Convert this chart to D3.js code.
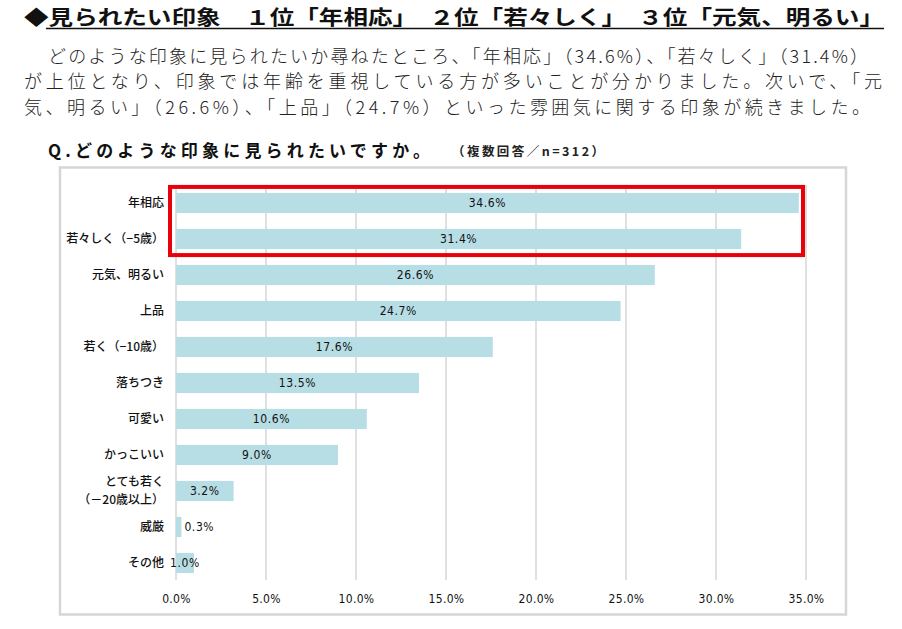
<!DOCTYPE html>
<html><head><meta charset="utf-8">
<script src="https://cdn.jsdelivr.net/npm/d3@7"></script>
<style>
html,body{margin:0;padding:0;background:#fff;}
svg{display:block;font-family:"Noto Sans CJK JP","Noto Sans",sans-serif;}
</style></head>
<body>
<svg id="c" width="902" height="629"></svg>
<script>
const titleText = "◆見られたい印象　１位「年相応」　２位「若々しく」　３位「元気、明るい」";
const paragraphLines = [
  "どのような印象に見られたいか尋ねたところ、「年相応」（34.6%）、「若々しく」（31.4%）",
  "が上位となり、印象では年齢を重視している方が多いことが分かりました。次いで、「元",
  "気、明るい」（26.6%）、「上品」（24.7%）といった雰囲気に関する印象が続きました。"
];
const questionText = "Q.どのような印象に見られたいですか。";
const noteText = "（複数回答／n=312）";
const categories = [
  ["年相応"],
  ["若々しく（−5歳）"],
  ["元気、明るい"],
  ["上品"],
  ["若く（−10歳）"],
  ["落ちつき"],
  ["可愛い"],
  ["かっこいい"],
  ["とても若く", "（－20歳以上）"],
  ["威厳"],
  ["その他"]
];
const values = [34.6, 31.4, 26.6, 24.7, 17.6, 13.5, 10.6, 9.0, 3.2, 0.3, 1.0];
const xTicks = [0, 5, 10, 15, 20, 25, 30, 35];
const highlighted = [0, 1];

const svg = d3.select("#c");

// title
svg.append("text").attr("x", 24).attr("y", 25)
  .attr("font-size", 20).attr("font-weight", 700).attr("fill", "#111")
  .attr("textLength", 860).attr("lengthAdjust", "spacingAndGlyphs")
  .text(titleText);
svg.append("line").attr("x1", 46).attr("x2", 884).attr("y1", 28.5).attr("y2", 28.5)
  .attr("stroke", "#111").attr("stroke-width", 1.5);

// paragraph
const pStarts = [48, 24, 24], pEnds = [868, 882, 870], pBase = [63, 88, 114];
paragraphLines.forEach((t, i) => {
  svg.append("text").attr("x", pStarts[i]).attr("y", pBase[i])
    .attr("font-size", 18).attr("font-weight", 300).attr("fill", "#222")
    .attr("textLength", pEnds[i] - pStarts[i]).attr("lengthAdjust", "spacing")
    .text(t);
});

// question
svg.append("text").attr("x", 48).attr("y", 157)
  .attr("font-size", 17).attr("font-weight", 700).attr("fill", "#111")
  .attr("textLength", 382).attr("lengthAdjust", "spacing")
  .text(questionText);
svg.append("text").attr("x", 452).attr("y", 156)
  .attr("font-size", 12.5).attr("font-weight", 700).attr("fill", "#222")
  .attr("textLength", 152).attr("lengthAdjust", "spacing")
  .text(noteText);

// plot frame
svg.append("rect").attr("x", 60).attr("y", 167.5).attr("width", 786).attr("height", 447)
  .attr("fill", "none").attr("stroke", "#d6d6d6").attr("stroke-width", 2.5);

const x = d3.scaleLinear().domain([0, 35]).range([176, 806]);
const y = d3.scaleBand().domain(d3.range(categories.length)).range([185, 581]).paddingInner(0.44).paddingOuter(0.22);

// gridlines
svg.append("g").selectAll("line").data(xTicks).join("line")
  .attr("x1", d => x(d)).attr("x2", d => x(d))
  .attr("y1", 185).attr("y2", 580)
  .attr("stroke", "#d9d9d9").attr("stroke-width", 1.6);

// bars
svg.append("g").selectAll("rect").data(values).join("rect")
  .attr("x", x(0)).attr("y", (d, i) => y(i))
  .attr("width", d => x(d) - x(0)).attr("height", y.bandwidth())
  .attr("fill", "#b7dde5");

// value labels
svg.append("g").selectAll("text").data(values).join("text")
  .attr("x", d => d < 0.5 ? x(d) + 3 : (x(0) + x(d)) / 2)
  .attr("y", (d, i) => y(i) + y.bandwidth() / 2)
  .attr("dy", "0.36em")
  .attr("text-anchor", d => d < 0.5 ? "start" : "middle")
  .attr("font-size", 12).attr("fill", "#111")
  .attr("font-family", "'Liberation Sans Narrow','DejaVu Sans Condensed','Liberation Sans',sans-serif")
  .attr("letter-spacing", 0.6)
  .text(d => d.toFixed(1) + "%");

// category labels
const catG = svg.append("g");
categories.forEach((lines, i) => {
  const cy = y(i) + y.bandwidth() / 2;
  const n = lines.length;
  lines.forEach((t, j) => {
    catG.append("text").attr("x", 164)
      .attr("y", cy + (j - (n - 1) / 2) * 18)
      .attr("dy", "0.36em").attr("text-anchor", "end")
      .attr("font-size", 12).attr("font-weight", 500).attr("fill", "#111")
      .text(t);
  });
});

// x axis labels
const xAxis = d3.axisBottom(x).tickValues(xTicks).tickSize(0).tickPadding(0)
  .tickFormat(d => d.toFixed(1) + "%");
const ax = svg.append("g").attr("transform", "translate(0,594)").call(xAxis);
ax.select(".domain").remove();
ax.selectAll("text").attr("font-size", 12).attr("fill", "#111")
  .attr("font-family", "'Liberation Sans Narrow','DejaVu Sans Condensed','Liberation Sans',sans-serif")
  .attr("letter-spacing", 0.3);

// highlight box
const hb = [d3.min(highlighted), d3.max(highlighted)];
svg.append("rect")
  .attr("x", x(0) - 6).attr("y", y(hb[0]) - 6)
  .attr("width", x(35) - x(0) + 3)
  .attr("height", y(hb[1]) + y.bandwidth() - y(hb[0]) + 12)
  .attr("fill", "none").attr("stroke", "#e8000b").attr("stroke-width", 4);
</script>
</body></html>
